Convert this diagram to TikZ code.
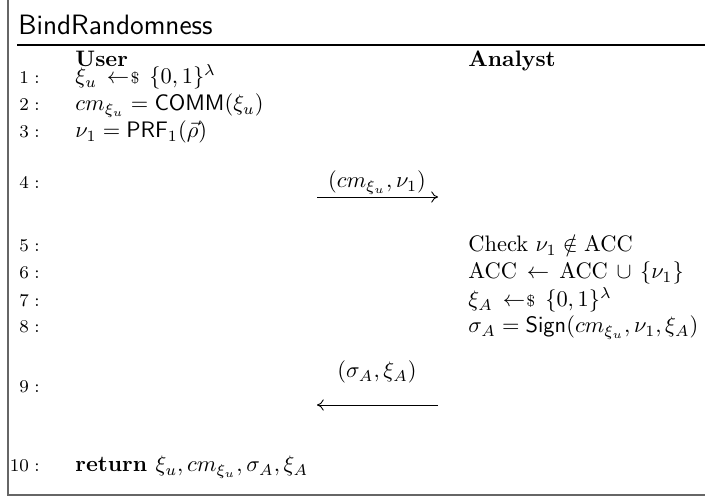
\documentclass[tikz,border=0pt]{standalone}
\usepackage{amsmath,amssymb}
\usetikzlibrary{arrows.meta}
\newcommand{\smp}{\mathrel{\mkern3mu\leftarrow\mkern-4mu\vcenter{\hbox{\scriptsize\$}}\mkern3mu}}
\begin{document}
\begin{tikzpicture}[x=0.4464pt,y=-0.4464pt,
  txt/.style={inner sep=0pt,anchor=base west},
  num/.style={inner sep=0pt,anchor=base east,font=\footnotesize},
  lbl/.style={inner sep=0pt,anchor=base},
  frameline/.style={draw=black!60,line width=0.9pt},
  msg/.style={draw,line width=0.4pt,-{To[length=3pt,width=5pt]}}]
\useasboundingbox (0,0) rectangle (705,498);
% frame
\coordinate (fTL) at (8,0);
\coordinate (fBL) at (8,495);
\coordinate (fBR) at (705,495);
\draw[frameline] (fTL) -- (fBL) -- (fBR);
\coordinate (rL) at (17,45);
\coordinate (rR) at (705,45);
\draw[line width=0.5pt] (rL) -- (rR);
\node[txt] (title) at (18,35) {\fontsize{12.5pt}{15pt}\selectfont\sffamily BindRandomness};
% headers
\node[txt] (huser) at (75,67) {\textbf{User}};
\node[txt] (hana) at (468,67) {\textbf{Analyst}};
% row numbers
\node[num] (n1) at (40,84) {$1:$};
\node[num] (n2) at (40,111) {$2:$};
\node[num] (n3) at (40,138) {$3:$};
\node[num] (n4) at (40,189) {$4:$};
\node[num] (n5) at (40,252) {$5:$};
\node[num] (n6) at (40,279) {$6:$};
\node[num] (n7) at (40,307) {$7:$};
\node[num] (n8) at (40,333) {$8:$};
\node[num] (n9) at (40,393) {$9:$};
\node[num] (n10) at (40,472) {$10:$};
% user column
\node[txt] (u1) at (75,84) {$\xi_u \smp \{0,1\}^\lambda$};
\node[txt] (u2) at (75,111) {$cm_{\xi_u} = \mathsf{COMM}(\xi_u)$};
\node[txt] (u3) at (75,138) {$\nu_1 = \mathsf{PRF}_1(\vec{\rho})$};
\node[txt] (u10) at (75,472) {$\textbf{return } \xi_u, cm_{\xi_u}, \sigma_A, \xi_A$};
% analyst column
\node[txt] (a5) at (468,252) {Check $\nu_1 \notin \mathrm{ACC}$};
\node[txt] (a6) at (468,279) {$\mathrm{ACC} \mathrel{\,\leftarrow\,} \mathrm{ACC} \mathbin{\,\cup\,} \{\nu_1\}$};
\node[txt] (a7) at (468,307) {$\xi_A \smp \{0,1\}^\lambda$};
\node[txt] (a8) at (468,333) {$\sigma_A = \mathsf{Sign}(cm_{\xi_u}, \nu_1, \xi_A)$};
% messages
\coordinate (m1s) at (317,197);
\coordinate (m1e) at (438,197);
\draw[msg] (m1s) -- (m1e);
\node[lbl] (m1l) at (377,188) {$(cm_{\xi_u}, \nu_1)$};
\coordinate (m2s) at (438,405);
\coordinate (m2e) at (317,405);
\draw[msg] (m2s) -- (m2e);
\node[lbl] (m2l) at (377,378) {$(\sigma_A, \xi_A)$};
\end{tikzpicture}
\end{document}
